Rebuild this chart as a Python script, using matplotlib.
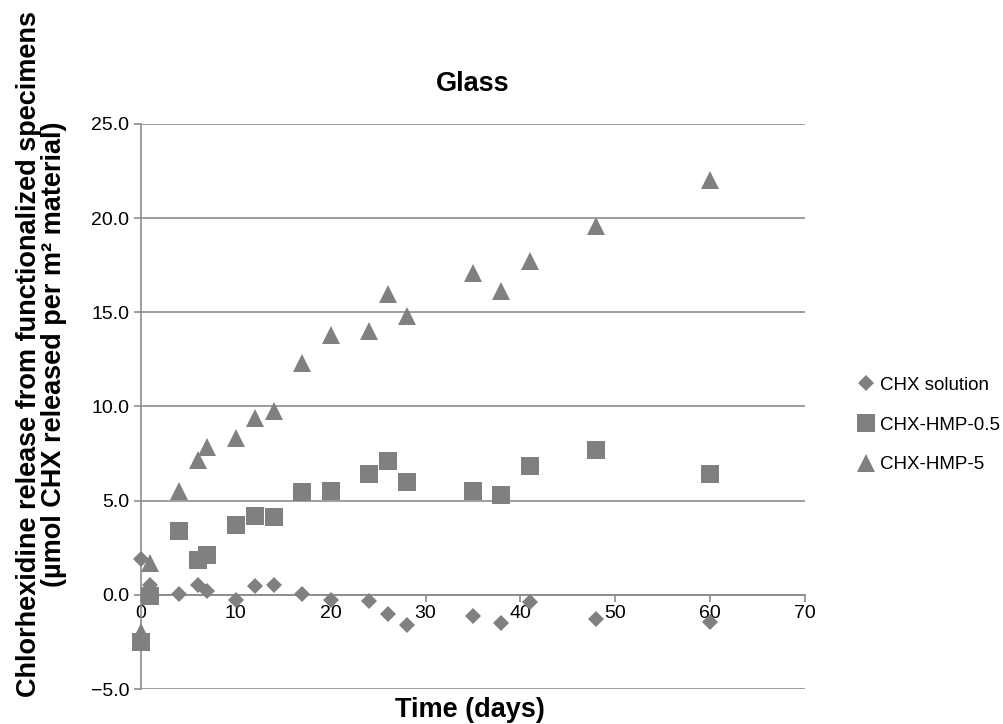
import matplotlib
matplotlib.use('Agg')
import matplotlib.pyplot as plt

plt.rcParams['font.family'] = ['Liberation Sans', 'DejaVu Sans']

# Time points (days) and release values (umol CHX / m2)
sol_days = [0, 1, 4, 6, 7, 10, 12, 14, 17, 20, 24, 26, 28, 35, 38, 41, 48, 60]
sol_vals = [1.9, 0.5, 0.05, 0.5, 0.2, -0.25, 0.45, 0.5, 0.05, -0.25, -0.35, -1.0, -1.6,
            -1.1, -1.5, -0.4, -1.3, -1.45]

hmp05_days = [0, 1, 4, 6, 7, 10, 12, 14, 17, 20, 24, 26, 28, 35, 38, 41, 48, 60]
hmp05_vals = [-2.5, -0.05, 3.4, 1.85, 2.1, 3.7, 4.2, 4.15, 5.45, 5.5, 6.4, 7.1, 6.0,
              5.5, 5.3, 6.85, 7.7, 6.4]

hmp5_days = [0, 1, 4, 6, 7, 10, 12, 14, 17, 20, 24, 26, 28, 35, 38, 41, 48, 60]
hmp5_vals = [-2.0, 1.7, 5.5, 7.15, 7.85, 8.35, 9.4, 9.75, 12.3, 13.8, 14.0, 15.95, 14.8,
             17.1, 16.15, 17.75, 19.6, 22.0]

x_ticks = [0, 10, 20, 30, 40, 50, 60, 70]
y_ticks = [-5, 0, 5, 10, 15, 20, 25]

grey = '#808080'
axis_grey = '#8c8c8c'

fig = plt.figure(figsize=(10.04, 7.24), dpi=100)
ax = fig.add_axes([141 / 1004, 1 - 689 / 724, (805 - 141) / 1004, (689 - 124) / 724])

ax.plot(sol_days, sol_vals, linestyle='none', marker='D', markersize=8.5,
        color=grey, markeredgewidth=0, label='CHX solution', zorder=3, clip_on=False)
ax.plot(hmp05_days, hmp05_vals, linestyle='none', marker='s', markersize=13,
        color=grey, markeredgewidth=0, label='CHX-HMP-0.5', zorder=3, clip_on=False)
ax.plot(hmp5_days, hmp5_vals, linestyle='none', marker='^', markersize=12.5,
        color=grey, markeredgewidth=0, label='CHX-HMP-5', zorder=3, clip_on=False)

ax.set_xlim(0, 70)
ax.set_ylim(-5, 25)
ax.set_xticks(x_ticks)
ax.set_yticks(y_ticks)
ax.set_yticklabels(['\u22125.0' if v < 0 else f'{v:.1f}' for v in y_ticks])

# gridlines
ax.yaxis.grid(True, color=axis_grey, linewidth=1.2)
ax.set_axisbelow(True)

# x axis crosses at zero
ax.spines['bottom'].set_position(('data', 0))
ax.spines['bottom'].set_color(axis_grey)
ax.spines['left'].set_color(axis_grey)
ax.spines['bottom'].set_linewidth(1.2)
ax.spines['left'].set_linewidth(1.2)
ax.spines['top'].set_visible(False)
ax.spines['right'].set_visible(False)

ax.tick_params(axis='both', labelsize=14, color=axis_grey, width=1.2, length=5,
               direction='out')
ax.tick_params(axis='x', pad=2)

ax.set_title('Glass', fontsize=19.5, fontweight='bold', pad=24)
fig.text(470 / 1004, 1 - 710 / 724, 'Time (days)', ha='center', va='center',
         fontsize=19.5, fontweight='bold')
fig.text(42 / 1004, 1 - 354 / 724,
         'Chlorhexidine release from functionalized specimens\n'
         '(\u00b5mol CHX released per m\u00b2 material)',
         ha='center', va='center', rotation=90, fontsize=19.5, fontweight='bold',
         linespacing=0.95)

fig.legend(loc='center left', bbox_to_anchor=(849 / 1004, 1 - 425 / 724),
           frameon=False, fontsize=13.5, labelspacing=1.2, handletextpad=0.25,
           handlelength=1.0, borderaxespad=0)

fig.savefig('out.png', dpi=100)
